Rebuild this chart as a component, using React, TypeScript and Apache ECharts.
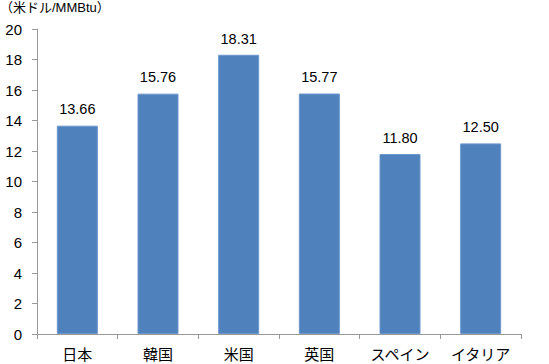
import React, { useEffect, useRef } from "react";
import * as echarts from "echarts";

const categories = ["日本", "韓国", "米国", "英国", "スペイン", "イタリア"];
const values = [13.66, 15.76, 18.31, 15.77, 11.8, 12.5];
const unitLabel = "（米ドル/MMBtu）";

export default function App() {
  const ref = useRef<HTMLDivElement>(null);
  useEffect(() => {
    if (!ref.current) return;
    const chart = echarts.init(ref.current, null, { renderer: "svg" });
    const cjk = "'Noto Sans CJK JP', sans-serif";
    const latin = "'Liberation Sans', 'Noto Sans CJK JP', sans-serif";
    chart.setOption({
      animation: false,
      textStyle: { fontFamily: latin },
      grid: { left: 37, right: 28, top: 29, bottom: 30, containLabel: false },
      graphic: [
        {
          type: "text",
          left: 0,
          top: 1,
          style: { text: unitLabel, fontSize: 13, fill: "#000", fontFamily: latin },
        },
      ],
      xAxis: {
        type: "category",
        data: categories,
        axisLine: { lineStyle: { color: "#999" } },
        axisTick: { show: true, alignWithLabel: false, length: 5, lineStyle: { color: "#999" } },
        axisLabel: { color: "#000", fontSize: 15, margin: 12, fontFamily: cjk },
      },
      yAxis: {
        type: "value",
        min: 0,
        max: 20,
        interval: 2,
        axisLine: { show: true, lineStyle: { color: "#999" } },
        axisTick: { show: true, length: 5, inside: false, lineStyle: { color: "#999" } },
        splitLine: { show: false },
        axisLabel: { color: "#000", fontSize: 15, margin: 15, fontFamily: latin },
      },
      series: [
        {
          type: "bar",
          data: values,
          barWidth: 41,
          itemStyle: { color: "#4F81BD", borderColor: "#6C96CC", borderWidth: 1 },
          label: {
            show: true,
            position: "top",
            distance: 9,
            color: "#000",
            fontSize: 14.5,
            fontFamily: latin,
            formatter: (p: any) => p.value.toFixed(2),
          },
        },
      ],
    });
    return () => chart.dispose();
  }, []);
  return <div ref={ref} style={{ width: 549, height: 364, position: "absolute", left: 0, top: 0 }} />;
}
